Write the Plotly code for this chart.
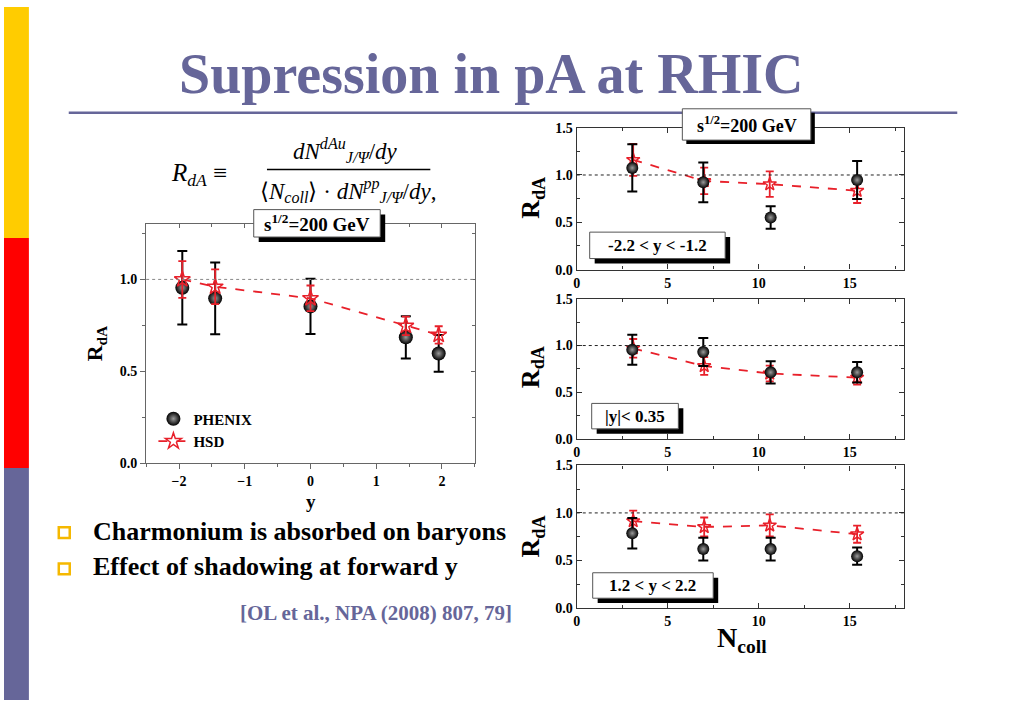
import plotly.graph_objects as go

W, H = 1023, 708
def px(x): return x / W
def py(y): return 1 - y / H

SERIF = "Liberation Serif, Times New Roman, Times, serif"
SLATE = "#666699"

# ---------------- data ----------------
# left chart: R_dA vs rapidity y
y_phenix = [-1.95, -1.45, 0.0, 1.45, 1.95]
r_phenix = [0.955, 0.897, 0.853, 0.685, 0.597]
e_phenix = [0.20, 0.195, 0.15, 0.115, 0.10]
y_hsd = [-1.95, -1.45, 0.0, 1.45, 1.95]
r_hsd = [1.0, 0.96, 0.897, 0.747, 0.698]
e_hsd = [0.10, 0.095, 0.07, 0.05, 0.047]

# right panels: R_dA vs Ncoll
ncoll_phenix = [3.05, 6.95, 10.65, 15.4]
ncoll_hsd = [3.1, 7.0, 10.6, 15.4]
p1_phenix = [1.075, 0.923, 0.551, 0.947]
p1_phenix_err = [0.25, 0.21, 0.12, 0.20]
p1_hsd = [1.16, 0.937, 0.903, 0.834]
p1_hsd_err = [0.17, 0.14, 0.135, 0.13]
p2_phenix = [0.955, 0.93, 0.712, 0.712]
p2_phenix_err = [0.16, 0.15, 0.12, 0.11]
p2_hsd = [0.97, 0.78, 0.70, 0.655]
p2_hsd_err = [0.10, 0.095, 0.085, 0.075]
p3_phenix = [0.786, 0.62, 0.62, 0.545]
p3_phenix_err = [0.16, 0.12, 0.12, 0.09]
p3_hsd = [0.914, 0.852, 0.869, 0.776]
p3_hsd_err = [0.11, 0.10, 0.115, 0.09]

panel_labels = ["-2.2 < y < -1.2", "|y|< 0.35", "1.2 < y < 2.2"]
energy_label = "s<sup>1/2</sup>=200 GeV"

fig = go.Figure()

def phenix_trace(x, y, e, xa, ya, show=False, size=13):
    return go.Scatter(
        x=x, y=y, mode="markers", name="PHENIX", showlegend=show,
        xaxis=xa, yaxis=ya,
        marker=dict(symbol="circle", size=size, color="black",
                    gradient=dict(type="radial", color="#9a9a9a"),
                    line=dict(width=0)),
        error_y=dict(type="data", array=e, color="black", thickness=2, width=5),
    )

def hsd_trace(x, y, e, xa, ya, show=False, size=12):
    return go.Scatter(
        x=x, y=y, mode="lines+markers", name="HSD", showlegend=show,
        xaxis=xa, yaxis=ya,
        line=dict(color="#e8202a", width=1.8, dash="dash"),
        marker=dict(symbol="star-open", size=size, color="#e8202a",
                    line=dict(width=1.5, color="#e8202a")),
        error_y=dict(type="data", array=e, color="#e8202a", thickness=1.8, width=4),
    )

# left chart
fig.add_trace(phenix_trace(y_phenix, r_phenix, e_phenix, "x", "y", show=True, size=14))
fig.add_trace(hsd_trace(y_hsd, r_hsd, e_hsd, "x", "y", show=True, size=12))
# overlay axis trace (for inside ticks on top/right)
fig.add_trace(go.Scatter(x=[None], y=[None], xaxis="x5", yaxis="y5", showlegend=False,
                         hoverinfo="skip"))

panels = [(p1_phenix, p1_phenix_err, p1_hsd, p1_hsd_err),
          (p2_phenix, p2_phenix_err, p2_hsd, p2_hsd_err),
          (p3_phenix, p3_phenix_err, p3_hsd, p3_hsd_err)]
for i, (ph, phe, hs, hse) in enumerate(panels):
    xa, ya = f"x{i+2}", f"y{i+2}"
    fig.add_trace(hsd_trace(ncoll_hsd, hs, hse, xa, ya, size=10))
    fig.add_trace(phenix_trace(ncoll_phenix, ph, phe, xa, ya, size=12))

tickfont = dict(family=SERIF, size=14, color="black", weight="bold")

# ---------- axes ----------
left_dom_x = [px(142.7), px(472.7)]
left_dom_y = [py(466), py(222)]
fig.update_layout(
    xaxis=dict(domain=left_dom_x, range=[-2.5, 2.5], dtick=1, anchor="y",
               showgrid=False, zeroline=False, showline=True, linecolor="#666666",
               linewidth=1.3, ticks="outside", ticklen=5, tickcolor="#666666",
               minor=dict(dtick=0.5, ticks="outside", ticklen=3, tickcolor="#666666"),
               tickfont=tickfont),
    yaxis=dict(domain=left_dom_y, range=[0, 1.3], dtick=0.5, tickformat=".1f", anchor="x",
               showgrid=False, zeroline=False, showline=True, linecolor="#666666",
               linewidth=1.3, ticks="outside", ticklen=5, tickcolor="#666666",
               minor=dict(dtick=0.25, ticks="outside", ticklen=3, tickcolor="#666666"),
               tickfont=tickfont),
    xaxis5=dict(domain=left_dom_x, range=[-2.5, 2.5], dtick=1, overlaying="x", anchor="y5",
                side="top", showgrid=False, zeroline=False, showline=True,
                linecolor="#666666", linewidth=1.3, ticks="inside", ticklen=4,
                tickcolor="#666666", showticklabels=False,
                minor=dict(dtick=0.5, ticks="inside", ticklen=3, tickcolor="#666666")),
    yaxis5=dict(domain=left_dom_y, range=[0, 1.3], dtick=0.5, overlaying="y", anchor="x5",
                side="right", showgrid=False, zeroline=False, showline=True,
                linecolor="#666666", linewidth=1.3, ticks="inside", ticklen=4,
                tickcolor="#666666", showticklabels=False,
                minor=dict(dtick=0.25, ticks="inside", ticklen=3, tickcolor="#666666")),
)

right_dom_x = [px(575), px(904)]
panel_px = [(123.3, 268.3), (298.3, 441), (468.3, 614)]
for i, (top, bot) in enumerate(panel_px):
    n = i + 2
    fig.update_layout({
        f"xaxis{n}": dict(domain=right_dom_x, range=[0, 18], dtick=5, anchor=f"y{n}",
                          showgrid=False, zeroline=False, showline=True, mirror="ticks",
                          linecolor="#333333", linewidth=1.3, ticks="inside", ticklen=5,
                          tickcolor="#333333",
                          minor=dict(dtick=2.5, ticks="inside", ticklen=3, tickcolor="#333333"),
                          tickfont=tickfont),
        f"yaxis{n}": dict(domain=[py(bot), py(top)], range=[0, 1.5], dtick=0.5,
                          tickformat=".1f", anchor=f"x{n}",
                          showgrid=False, zeroline=False, showline=True, mirror="ticks",
                          linecolor="#333333", linewidth=1.3, ticks="inside", ticklen=5,
                          tickcolor="#333333",
                          minor=dict(dtick=0.25, ticks="inside", ticklen=3, tickcolor="#333333"),
                          tickfont=tickfont),
    })

shapes = []
# side colour strip
shapes.append(dict(type="rect", xref="paper", yref="paper", x0=0, x1=px(25), y0=py(236), y1=1,
                   fillcolor="#FFCC00", line_width=0, layer="below"))
shapes.append(dict(type="rect", xref="paper", yref="paper", x0=0, x1=px(25), y0=py(471), y1=py(236),
                   fillcolor="#FF0000", line_width=0, layer="below"))
shapes.append(dict(type="rect", xref="paper", yref="paper", x0=0, x1=px(25), y0=0, y1=py(471),
                   fillcolor=SLATE, line_width=0, layer="below"))
# title rule
shapes.append(dict(type="line", xref="paper", yref="paper", x0=px(65), x1=px(957),
                   y0=py(108), y1=py(108), line=dict(color=SLATE, width=2.5)))
# reference lines at R=1
shapes.append(dict(type="line", xref="x domain", yref="y", x0=0, x1=1, y0=1, y1=1,
                   line=dict(color="#888888", width=1, dash="dot")))
for n in (2, 3, 4):
    shapes.append(dict(type="line", xref=f"x{n} domain", yref=f"y{n}", x0=0, x1=1, y0=1, y1=1,
                       line=dict(color="#222222", width=1, dash="dot")))

annotations = []

def box(x0, y0, x1, y1, text, size, off=5):
    shapes.append(dict(type="rect", xref="paper", yref="paper",
                       x0=px(x0 + off), x1=px(x1 + off), y0=py(y1 + off), y1=py(y0 + off),
                       fillcolor="black", line_width=0))
    shapes.append(dict(type="rect", xref="paper", yref="paper",
                       x0=px(x0), x1=px(x1), y0=py(y1), y1=py(y0),
                       fillcolor="white", line=dict(color="#555555", width=1)))
    annotations.append(dict(xref="paper", yref="paper", x=px((x0 + x1) / 2), y=py((y0 + y1) / 2),
                            text=f"<b>{text}</b>", showarrow=False,
                            font=dict(family=SERIF, size=size, color="black"),
                            xanchor="center", yanchor="middle"))

box(250.7, 207, 377.7, 235, energy_label, 19, off=5)
box(681, 104, 810, 136, energy_label, 18, off=4)
box(588, 230, 724, 257, panel_labels[0], 17, off=5)
box(590, 405, 677, 431, panel_labels[1], 17, off=5)
box(591, 578, 712, 604, panel_labels[2], 17, off=5)

# bullets
for yb in (537, 574):
    shapes.append(dict(type="rect", xref="paper", yref="paper", x0=px(55), x1=px(66),
                       y0=py(yb + 5.5), y1=py(yb - 5.5), fillcolor="white",
                       line=dict(color="#F5B800", width=2.5)))

def ann(x, y, text, size, color="black", xanchor="center", angle=0, family=SERIF):
    annotations.append(dict(xref="paper", yref="paper", x=px(x), y=py(y), text=text,
                            showarrow=False, textangle=angle,
                            font=dict(family=family, size=size, color=color),
                            xanchor=xanchor, yanchor="middle"))

ann(489, 68, "<b>Supression in pA at RHIC</b>", 56, color=SLATE)
ann(87, 536, "<b>Charmonium is absorbed on baryons</b>", 26, xanchor="left")
ann(87, 572, "<b>Effect of shadowing at forward y</b>", 26, xanchor="left")
ann(373, 619, "<b>[OL et al., NPA (2008) 807, 79]</b>", 21, color=SLATE)

# axis titles
ann(92, 344, "<b>R<sub>dA</sub></b>", 22, angle=-90)
ann(308, 505, "<b>y</b>", 19)
for yc in (195, 368, 541):
    ann(530, yc, "<b>R<sub>dA</sub></b>", 26, angle=-90)
ann(741, 646, "<b>N<sub>coll</sub></b>", 28)

# formula
ann(196, 171, "<i>R<sub>dA</sub></i> ≡", 25)
ann(343, 147, "<i>dN<sup>dAu</sup><sub>J/Ψ</sub></i>/<i>dy</i>", 23)
shapes.append(dict(type="line", xref="paper", yref="paper", x0=px(264), x1=px(428),
                   y0=py(166), y1=py(166), line=dict(color="black", width=1.3)))
ann(345, 187, "⟨<i>N<sub>coll</sub></i>⟩ · <i>dN<sup>pp</sup><sub>J/Ψ</sub></i>/<i>dy</i>,", 23)

fig.update_layout(
    autosize=True, margin=dict(l=0, r=0, t=0, b=0, pad=0),
    paper_bgcolor="white", plot_bgcolor="rgba(0,0,0,0)",
    shapes=shapes, annotations=annotations,
    showlegend=True,
    legend=dict(x=px(150), y=py(404), xanchor="left", yanchor="top",
                bgcolor="rgba(0,0,0,0)", borderwidth=0, tracegroupgap=2,
                font=dict(family=SERIF, size=15, color="black", weight="bold"),
                itemwidth=30),
    font=dict(family=SERIF),
)

fig.write_html("out.html",
               config={"displayModeBar": False, "responsive": True},
               default_width="100vw", default_height="100vh",
               post_script="document.documentElement.style.margin='0';"
                           "document.body.style.margin='0';"
                           "document.body.style.overflow='hidden';")
